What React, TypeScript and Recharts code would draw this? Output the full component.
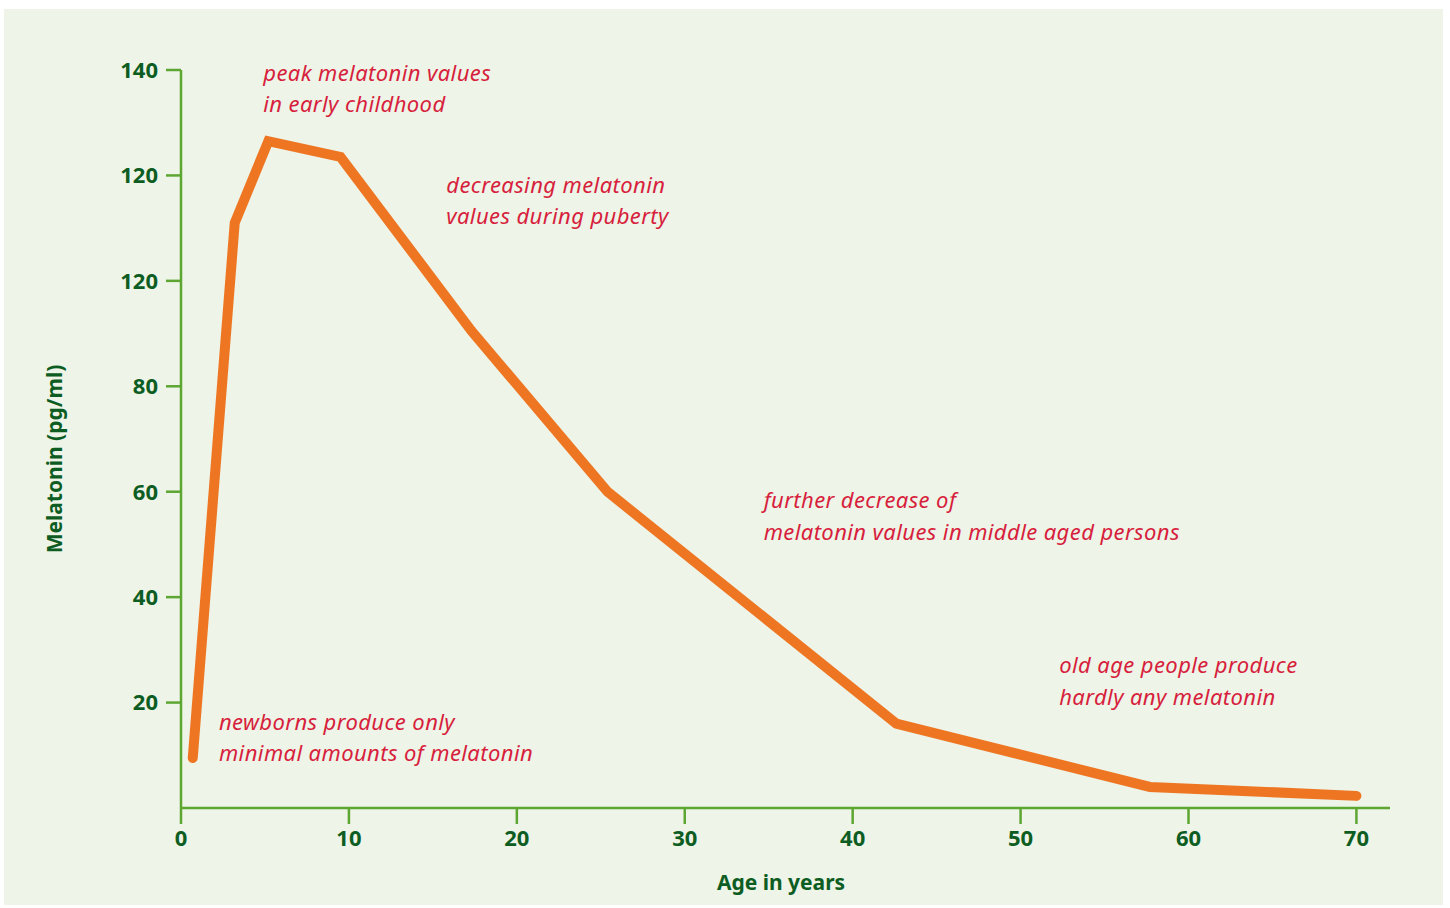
import React from 'react'
import {
  LineChart,
  Line,
  XAxis,
  YAxis,
  ReferenceDot,
  Label
} from 'recharts';

const ages = [0.7, 3.2, 5.2, 9.5, 17.3, 25.4, 42.6, 57.7, 70];
const melatonin = [9.5, 111, 126.5, 123.5, 90.5, 60, 16, 4, 2.3];

const xTicks = [0, 10, 20, 30, 40, 50, 60, 70];
const yTicks = [20, 40, 60, 80, 100, 120, 140];
const yTickLabels = ['20', '40', '60', '80', '120', '120', '140'];

const noteAges = [4.9, 15.8, 34.7, 52.3, 2.26];
const noteValues = [138, 116.7, 56.9, 25.6, 14.8];
const noteTexts = [
  ['peak melatonin values', 'in early childhood'],
  ['decreasing melatonin', 'values during puberty'],
  ['further decrease of', 'melatonin values in middle aged persons'],
  ['old age people produce', 'hardly any melatonin'],
  ['newborns produce only', 'minimal amounts of melatonin']
];

const data = ages.map((age, i) => ({ age, value: melatonin[i] }));

const GREEN = '#5da632';
const DARK = '#0d5d23';
const RED = '#d71f3d';
const ORANGE = '#ee7623';
const FONT = '"Noto Sans", "Open Sans", sans-serif';

const tickStyle = {
  fill: DARK,
  fontSize: 22,
  fontWeight: 700,
  fontFamily: FONT,
  fontVariantNumeric: 'oldstyle-nums'
};

function Note({ viewBox, lines }: any) {
  const x = viewBox.x + viewBox.width / 2;
  const y = viewBox.y + viewBox.height / 2;
  return (
    <text
      x={x}
      y={y}
      fill={RED}
      fontSize={22}
      letterSpacing={0.4}
      fontStyle="italic"
      fontFamily={FONT}
    >
      {lines.map((l: string, i: number) => (
        <tspan key={i} x={x} dy={i === 0 ? 0 : 31.5}>{l}</tspan>
      ))}
    </text>
  );
}

export default function App() {
  return (
    <div style={{ position: 'absolute', left: 4, top: 9, background: '#eef4e7' }}>
      <LineChart
        width={1439}
        height={896}
        data={data}
        margin={{ top: 61, right: 53, bottom: 0, left: 0 }}
      >
        <XAxis
          dataKey="age"
          type="number"
          domain={[0, 72]}
          ticks={xTicks}
          height={97}
          tickSize={16}
          tickMargin={6}
          axisLine={{ stroke: GREEN, strokeWidth: 2.5 }}
          tickLine={{ stroke: GREEN, strokeWidth: 2.5 }}
          tick={tickStyle}
        >
          <Label
            content={({ viewBox }: any) => (
              <text
                x={viewBox.x + 600}
                y={viewBox.y + 82}
                textAnchor="middle"
                fill={DARK}
                fontSize={21}
                fontWeight={700}
                fontFamily={FONT}
              >
                Age in years
              </text>
            )}
          />
        </XAxis>
        <YAxis
          dataKey="value"
          type="number"
          domain={[0, 140]}
          ticks={yTicks}
          width={177}
          tickSize={15}
          tickMargin={8}
          tickFormatter={(v: number) => yTickLabels[yTicks.indexOf(v)]}
          axisLine={{ stroke: GREEN, strokeWidth: 2.5 }}
          tickLine={{ stroke: GREEN, strokeWidth: 2.5 }}
          tick={tickStyle}
        >
          <Label
            content={() => (
              <text
                x={0}
                y={0}
                transform="translate(58, 450) rotate(-90)"
                textAnchor="middle"
                fill={DARK}
                fontSize={21}
                fontWeight={700}
                fontFamily={FONT}
              >
                Melatonin (pg/ml)
              </text>
            )}
          />
        </YAxis>
        <Line
          type="linear"
          dataKey="value"
          stroke={ORANGE}
          strokeWidth={10}
          strokeLinecap="round"
          strokeLinejoin="miter"
          dot={false}
          activeDot={false}
          isAnimationActive={false}
        />
        {noteTexts.map((lines, i) => (
          <ReferenceDot
            key={i}
            x={noteAges[i]}
            y={noteValues[i]}
            r={1}
            fill="none"
            stroke="none"
            label={<Note lines={lines} />}
          />
        ))}
      </LineChart>
    </div>
  );
}
